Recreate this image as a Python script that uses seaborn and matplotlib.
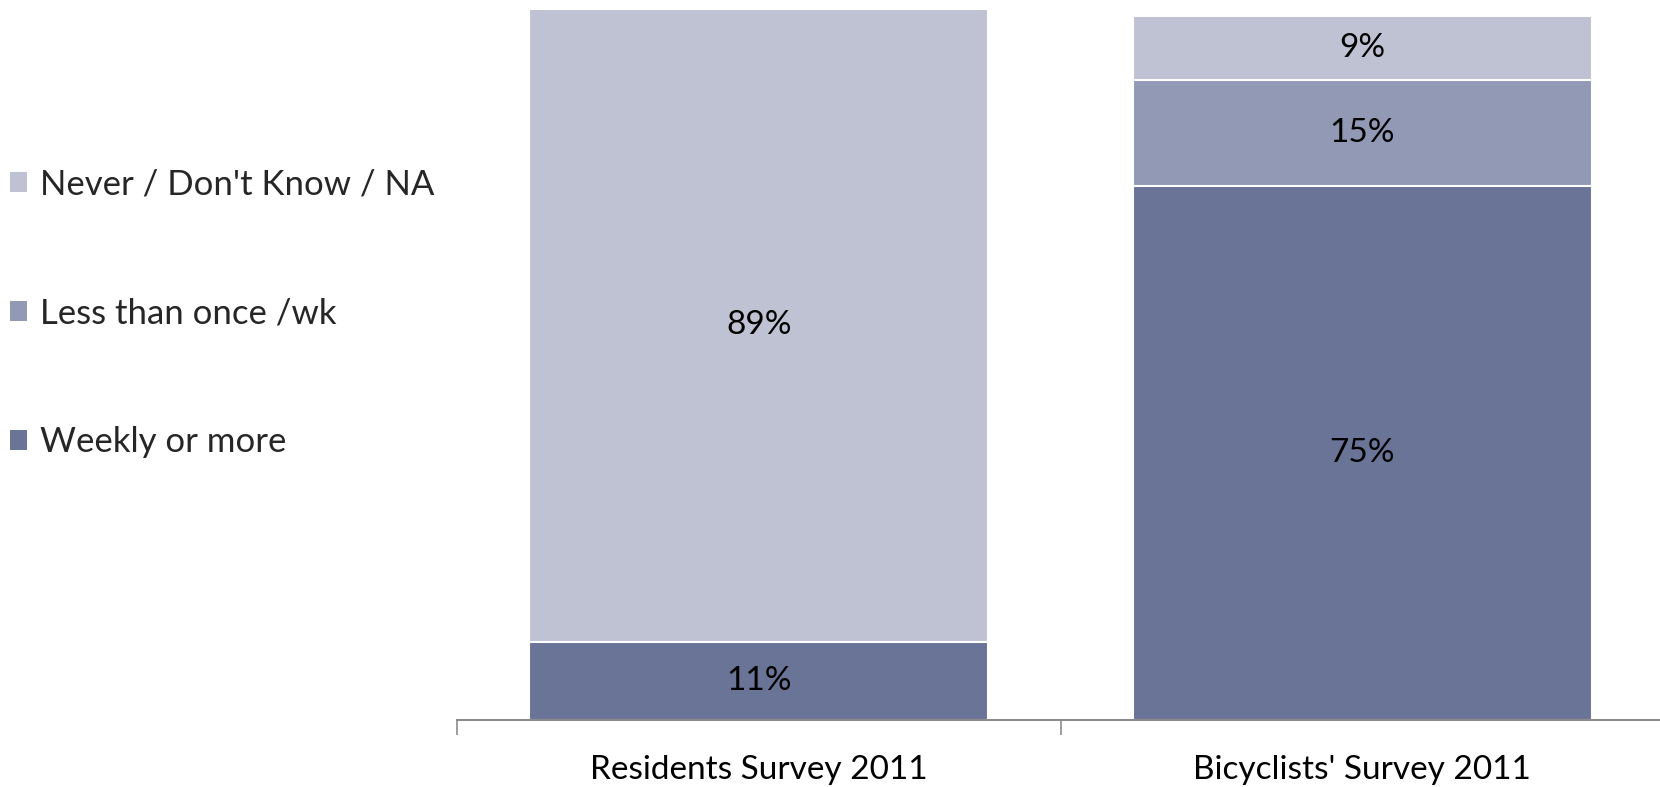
# bike frequency: stacked bars for the two 2011 surveys
import matplotlib
matplotlib.use("Agg")
import matplotlib.pyplot as plt
from matplotlib.patches import Patch
import seaborn as sns
import pandas as pd

# ==================== DATA ====================
surveys=["Residents Survey 2011","Bicyclists' Survey 2011"]
categories=["Weekly or more","Less than once /wk","Never / Don't Know / NA"]
weekly=[11,75]
less_weekly=[0,15]
never=[89,9]
colors=["#6A7497","#9199B4","#BFC2D2"]

# ==================== STYLE ====================
sns.set_theme(style="white")
plt.rcParams['font.family']=['Lato','DejaVu Sans']
fs=24

df=pd.DataFrame({"survey":surveys,"weekly":weekly,"less":less_weekly,"never":never})
df["c1"]=df["weekly"]
df["c2"]=df["weekly"]+df["less"]
df["c3"]=df["c2"]+df["never"]

W,H=1660,787
fig=plt.figure(figsize=(W/100,H/100),dpi=100)
ax=fig.add_axes([457/W,(H-720)/H,1207/W,711.5/H])

# draw cumulative layers, tallest first so smaller ones sit on top
for col,c in zip(["c3","c2","c1"],colors[::-1]):
    sns.barplot(data=df,x="survey",y=col,color=c,width=0.76,
                edgecolor="white",linewidth=1.5,saturation=1,ax=ax,order=surveys)

# segment labels
for i,s in enumerate(surveys):
    base=0
    for v in [weekly[i],less_weekly[i],never[i]]:
        if v>0:
            ax.text(i,base+v/2,f"{v}%",ha="center",va="center",fontsize=fs,color="black")
        base+=v

ax.set_xlim(-0.5,1.5)
ax.set_ylim(0,100)
ax.set_xlabel("")
ax.set_ylabel("")
ax.set_yticks([])
for sp in ["top","right","left"]:
    ax.spines[sp].set_visible(False)
ax.spines["bottom"].set_color("#8C8C8C")
ax.spines["bottom"].set_linewidth(1.5)
ax.set_xticks([-0.5,0.5,1.5],minor=True)
ax.tick_params(axis="x",which="minor",length=11,width=1.2,color="#8C8C8C",bottom=True)
ax.tick_params(axis="x",which="major",length=0,labelsize=fs,pad=25,labelcolor="black")

# legend on the left
handles=[Patch(facecolor=c,edgecolor="none",label=l) for c,l in zip(colors[::-1],categories[::-1])]
fig.legend(handles=handles,loc="upper left",bbox_to_anchor=(10/W,1-168/H),frameon=False,
           fontsize=25,handlelength=0.5,handleheight=0.5,handletextpad=0.35,
           labelspacing=2.8,borderpad=0,borderaxespad=0)

plt.savefig("out.png",dpi=100)
plt.close()
